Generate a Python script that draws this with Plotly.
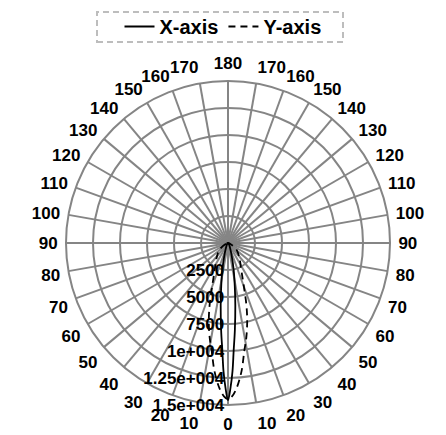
import plotly.graph_objects as go

# Angular ticks every 10 degrees; labels count 0..180 on both sides of the dial
tick_angles = list(range(0, 360, 10))
tick_labels = [str(a if a <= 180 else 360 - a) for a in tick_angles]

# Radial ticks and their printed labels
radial_ticks = [2500, 5000, 7500, 10000, 12500, 15000]
radial_labels = ["2500", "5000", "7500", "1e+004", "1.25e+004", "1.5e+004"]

# X-axis pattern (degrees from boresight, magnitude)
x_theta = [-90, -50, -35, -25, -17, -12, -9, -6.7, -4.5, -3, -2, -1, 0,
           1, 2, 3, 4.5, 6.7, 9, 12, 17, 25, 35, 50, 90]
x_r = [0, 60, 180, 400, 1080, 2500, 4000, 5800, 8100, 10000, 11900, 13400, 14550,
       13400, 11900, 10000, 8100, 5800, 4000, 2500, 1080, 400, 180, 60, 0]

# Y-axis pattern
y_theta = [-90, -70, -52, -38, -26, -20, -16.5, -13.8, -11, -8.6, -6, -3.3, -1.5, 0,
           1.5, 3.3, 6, 8.6, 11, 13.8, 16.5, 20, 26, 38, 52, 70, 90]
y_r = [0, 200, 1000, 1700, 2820, 4300, 6000, 7450, 8900, 10100, 11950, 13500, 14200, 14450,
       14200, 13500, 11950, 10100, 8900, 7450, 6000, 4300, 2820, 1700, 1000, 200, 0]

W, H = 446, 435
cx, cy, rad = 228, 243, 162  # dial centre and radius in pixels

fig = go.Figure()
fig.add_trace(go.Scatterpolar(
    theta=x_theta, r=x_r, mode="lines", name="X-axis",
    line=dict(color="black", width=1.8, shape="spline"),
))
fig.add_trace(go.Scatterpolar(
    theta=y_theta, r=y_r, mode="lines", name="Y-axis",
    line=dict(color="black", width=1.8, dash="7px,5px", shape="spline"),
))

grid = "#858585"
label_font = dict(size=17, color="black", family="Arial", weight="bold")
fig.update_layout(
    width=W, height=H,
    margin=dict(l=0, r=0, t=0, b=0),
    paper_bgcolor="white",
    font=label_font,
    polar=dict(
        domain=dict(x=[(cx - rad) / W, (cx + rad) / W],
                    y=[(H - cy - rad) / H, (H - cy + rad) / H]),
        bgcolor="white",
        angularaxis=dict(
            rotation=-90, direction="counterclockwise",
            tickmode="array", tickvals=tick_angles, ticktext=tick_labels,
            showline=True, linecolor=grid, linewidth=2,
            gridcolor=grid, gridwidth=1.6,
            ticks="outside", ticklen=4, tickcolor="rgba(0,0,0,0)",
            tickfont=label_font,
        ),
        radialaxis=dict(
            range=[0, 15000], angle=-90, tickangle=-90, side="clockwise",
            tickmode="array", tickvals=radial_ticks, ticktext=radial_labels,
            showline=False, gridcolor=grid, gridwidth=1.6, ticks="",
            tickfont=label_font,
        ),
    ),
    legend=dict(
        orientation="h", x=0.5, xanchor="center", y=1 - 7 / H, yanchor="top",
        font=dict(size=20, family="Arial", color="black", weight="bold"),
        bgcolor="rgba(0,0,0,0)", borderwidth=0,
    ),
    shapes=[dict(
        type="rect", xref="paper", yref="paper",
        x0=97 / W, x1=343 / W, y0=1 - 42 / H, y1=1 - 12 / H,
        line=dict(color="#bdbdbd", width=2, dash="6px,4px"),
    )],
)

fig.write_html("out.html")
